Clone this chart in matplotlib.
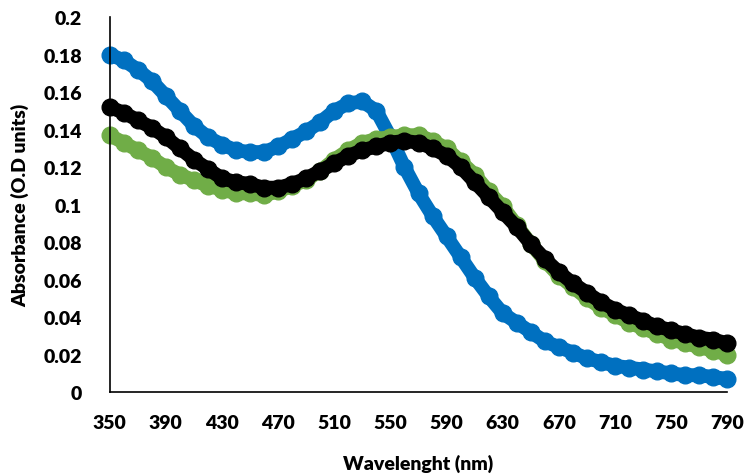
import numpy as np
import matplotlib
matplotlib.use("Agg")
import matplotlib.pyplot as plt

plt.rcParams['font.family'] = ['Lato', 'DejaVu Sans']

wavelength = [350, 360, 370, 380, 390, 400, 410, 420, 430, 440, 450, 460, 470,
              480, 490, 500, 510, 520, 530, 540, 550, 560, 570, 580, 590, 600,
              610, 620, 630, 640, 650, 660, 670, 680, 690, 700, 710, 720, 730,
              740, 750, 760, 770, 780, 790]

blue = [0.180, 0.177, 0.172, 0.166, 0.158, 0.150, 0.142, 0.136, 0.132, 0.129,
        0.128, 0.128, 0.131, 0.135, 0.139, 0.144, 0.150, 0.154, 0.155, 0.150,
        0.136, 0.120, 0.106, 0.094, 0.083, 0.072, 0.061, 0.051, 0.042, 0.037,
        0.032, 0.027, 0.024, 0.021, 0.018, 0.016, 0.014, 0.013, 0.012, 0.011,
        0.010, 0.009, 0.009, 0.008, 0.007]

green = [0.137, 0.133, 0.129, 0.125, 0.120, 0.116, 0.113, 0.110, 0.108, 0.106,
         0.106, 0.105, 0.107, 0.110, 0.113, 0.118, 0.124, 0.129, 0.133, 0.135,
         0.136, 0.137, 0.137, 0.134, 0.130, 0.123, 0.116, 0.107, 0.099, 0.089,
         0.079, 0.070, 0.062, 0.056, 0.050, 0.045, 0.041, 0.037, 0.034, 0.031,
         0.028, 0.026, 0.024, 0.022, 0.020]

black = [0.152, 0.149, 0.145, 0.141, 0.136, 0.130, 0.124, 0.119, 0.114, 0.112,
         0.111, 0.109, 0.109, 0.111, 0.114, 0.118, 0.122, 0.126, 0.129, 0.131,
         0.133, 0.134, 0.133, 0.130, 0.126, 0.120, 0.112, 0.104, 0.096, 0.088,
         0.079, 0.071, 0.064, 0.058, 0.053, 0.048, 0.044, 0.041, 0.038, 0.035,
         0.033, 0.031, 0.029, 0.028, 0.026]

fig = plt.figure(figsize=(7.46, 4.77), dpi=100)
ax = fig.add_axes([0.147, 0.176, 0.828, 0.786])

for y, c in [(blue, '#0070C0'), (green, '#70AD47'), (black, '#000000')]:
    ax.plot(wavelength, y, color=c, lw=10, solid_capstyle='round',
            marker='o', ms=12, clip_on=False)

ax.set_xlim(350, 790)
ax.set_ylim(0, 0.2)
ax.set_xticks(np.arange(350, 791, 40))
ax.set_yticks(np.arange(0, 0.201, 0.02))
ax.set_yticklabels(['0', '0.02', '0.04', '0.06', '0.08', '0.1', '0.12',
                    '0.14', '0.16', '0.18', '0.2'])
ax.tick_params(axis='x', length=0, labelsize=14, pad=16)
ax.tick_params(axis='y', length=0, labelsize=14, pad=20)
for lab in ax.get_xticklabels() + ax.get_yticklabels():
    lab.set_fontweight('heavy')
for s in ['top', 'right']:
    ax.spines[s].set_visible(False)
for s in ['left', 'bottom']:
    ax.spines[s].set_linewidth(1.2)
ax.set_xlabel("Wavelenght (nm)", fontsize=14, fontweight='heavy', labelpad=16)
ax.set_ylabel("Absorbance (O.D units)", fontsize=14, fontweight='heavy', labelpad=10)

fig.savefig("out.png", dpi=100)
